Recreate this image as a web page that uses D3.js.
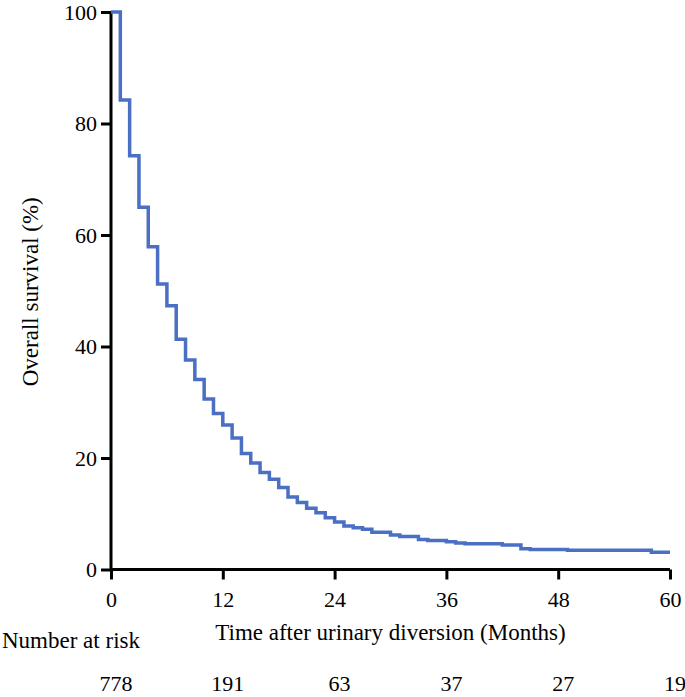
<!DOCTYPE html>
<html>
<head>
<meta charset="utf-8">
<script src="https://cdn.jsdelivr.net/npm/d3@7"></script>
<style>
  html, body { margin: 0; padding: 0; background: #fff; }
  svg { display: block; }
  svg text { font-family: 'Liberation Serif', Tinos, 'Times New Roman', Times, 'DejaVu Serif', serif !important; fill: #000; }
</style>
</head>
<body>
<svg id="chart" width="685" height="697"></svg>
<script>
// Step times (months) and Kaplan-Meier survival (%) after each step
const stepMonths = [0,1,2,3,4,5,6,7,8,9,10,11,12,13,14,15,16,17,18,19,20,21,22,23,24,25,26,27,28,30,31,33,34,36,37,38,42,44,45,49,58];
const survival   = [100,84.2,74.2,65.0,57.9,51.2,47.3,41.3,37.6,34.1,30.6,28.0,25.9,23.6,20.8,19.1,17.4,16.2,14.7,13.0,12.0,11.0,10.2,9.3,8.5,7.8,7.5,7.2,6.7,6.2,5.9,5.4,5.2,5.0,4.76,4.6,4.4,3.7,3.6,3.45,3.1];
const endMonth = 60;

const xTicks = [0,12,24,36,48,60];
const yTicks = [0,20,40,60,80,100];
const riskMonths = [0,12,24,36,48,60];
const riskCounts = [778,191,63,37,27,19];

const FONT = "'Liberation Serif', Tinos, 'Times New Roman', Times, 'DejaVu Serif', serif";

const svg = d3.select("#chart");
const x = d3.scaleLinear().domain([0, 60]).range([111, 670]);
const y = d3.scaleLinear().domain([0, 100]).range([569.5, 12]);

// Curve
const pts = stepMonths.map((m, i) => [m, survival[i]]);
pts.push([endMonth, survival[survival.length - 1]]);
const line = d3.line().x(d => x(d[0])).y(d => y(d[1])).curve(d3.curveStepAfter);

// Axes
const yAxis = d3.axisLeft(y).tickValues(yTicks).tickSize(10).tickSizeOuter(0).tickPadding(4);
const xAxis = d3.axisBottom(x).tickValues(xTicks).tickSize(10).tickSizeOuter(0).tickPadding(12);

const gy = svg.append("g").attr("transform", `translate(${x(0)},0)`).call(yAxis);
const gx = svg.append("g").attr("transform", `translate(0,${y(0)})`).call(xAxis);

[gy, gx].forEach(g => {
  g.attr("font-family", FONT).attr("font-size", 22);
  g.selectAll("path.domain").attr("stroke", "#000").attr("stroke-width", 3);
  g.selectAll(".tick line").attr("stroke", "#000").attr("stroke-width", 3);
  g.selectAll(".tick text").attr("fill", "#000");
});
gy.select("path.domain").attr("d", `M0,${y(100)}V${y(0)}`);
gx.select("path.domain").attr("d", `M${x(0)},0H${x(60)}`);

svg.append("path")
  .datum(pts)
  .attr("d", line)
  .attr("fill", "none")
  .attr("stroke", "#4a6fc3")
  .attr("stroke-width", 3.5)
  .attr("stroke-linejoin", "miter");

// Axis titles
svg.append("text")
  .attr("transform", `translate(38,${(y(0) + y(100)) / 2 + 1}) rotate(-90)`)
  .attr("text-anchor", "middle")
  .attr("font-family", FONT)
  .attr("font-size", 23)
  .text("Overall survival (%)");

svg.append("text")
  .attr("x", 390.5).attr("y", 640)
  .attr("text-anchor", "middle")
  .attr("font-family", FONT)
  .attr("font-size", 23)
  .text("Time after urinary diversion (Months)");

svg.append("text")
  .attr("x", 2).attr("y", 648)
  .attr("font-family", FONT)
  .attr("font-size", 23)
  .text("Number at risk");

svg.append("g").selectAll("text")
  .data(riskMonths)
  .join("text")
  .attr("x", (d) => x(d) + 5)
  .attr("y", 691)
  .attr("text-anchor", "middle")
  .attr("font-family", FONT)
  .attr("font-size", 22)
  .text((d, i) => riskCounts[i]);
</script>
</body>
</html>
